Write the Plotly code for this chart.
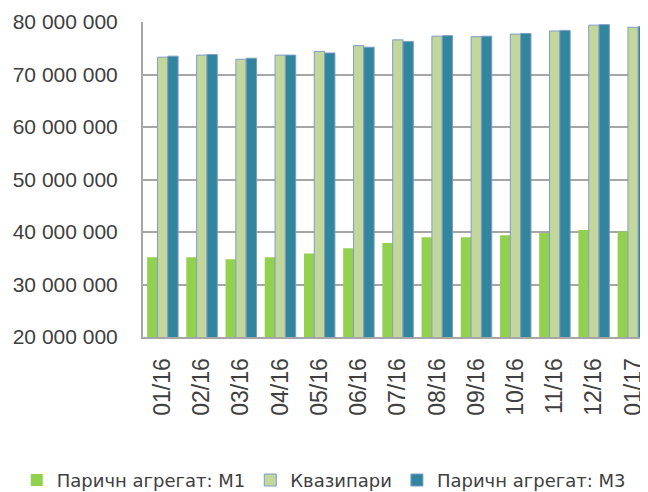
import plotly.graph_objects as go

categories = ["01/16", "02/16", "03/16", "04/16", "05/16", "06/16", "07/16",
              "08/16", "09/16", "10/16", "11/16", "12/16", "01/17"]
m1 = [35.2, 35.2, 34.8, 35.2, 35.9, 36.9, 37.9, 39.0, 39.0, 39.4, 39.8, 40.4, 40.1]
quasi = [73.3, 73.7, 72.9, 73.7, 74.4, 75.5, 76.6, 77.3, 77.2, 77.7, 78.3, 79.4, 79.0]
m3 = [73.5, 73.8, 73.1, 73.7, 74.1, 75.2, 76.3, 77.4, 77.3, 77.8, 78.4, 79.5, 79.1]
series_names = ["Паричн агрегат: М1", "Квазипари", "Паричн агрегат: М3"]
y_ticks = [20, 30, 40, 50, 60, 70, 80]

scale = 1_000_000
fig = go.Figure()
fig.add_trace(go.Bar(x=categories, y=[v * scale for v in m1], name=series_names[0],
                     marker=dict(color="#92d050", line=dict(width=0))))
fig.add_trace(go.Bar(x=categories, y=[v * scale for v in quasi], name=series_names[1],
                     marker=dict(color="#c3d69b", line=dict(color="#7f9cc8", width=1))))
fig.add_trace(go.Bar(x=categories, y=[v * scale for v in m3], name=series_names[2],
                     marker=dict(color="#31859c", line=dict(color="#7f9cc8", width=1))))

# page body has an 8px default margin, so the figure is sized 640x484
fig.update_layout(
    width=640, height=484,
    margin=dict(l=135, r=0, t=14, b=155, autoexpand=False),
    paper_bgcolor="white", plot_bgcolor="white",
    barmode="group", bargap=0.21, bargroupgap=0,
    separators=", ",
    font=dict(family="Liberation Sans, Arial, sans-serif", color="#404040"),
    showlegend=True,
    legend=dict(orientation="h", x=-0.25, xanchor="left", y=-0.455, yanchor="middle",
                font=dict(family="DejaVu Sans, sans-serif", size=18, color="#404040"),
                traceorder="normal", bgcolor="rgba(0,0,0,0)"),
)
fig.update_xaxes(
    type="category", range=[-0.5, 12.38], automargin=False,
    tickangle=-90, tickfont=dict(size=23, color="#404040"),
    showline=True, linecolor="#a6a6a6", linewidth=2,
    showgrid=False, ticks="", ticklabelstandoff=10,
)
fig.update_yaxes(
    range=[20 * scale, 80 * scale], automargin=False,
    tickvals=[t * scale for t in y_ticks], tickformat=",d",
    tickfont=dict(size=21, color="#404040"),
    showline=True, linecolor="#a6a6a6", linewidth=2,
    showgrid=True, gridcolor="#a6a6a6", gridwidth=1.5,
    zeroline=False, ticks="", ticklabelstandoff=19,
)

fig.write_html("out.html")
